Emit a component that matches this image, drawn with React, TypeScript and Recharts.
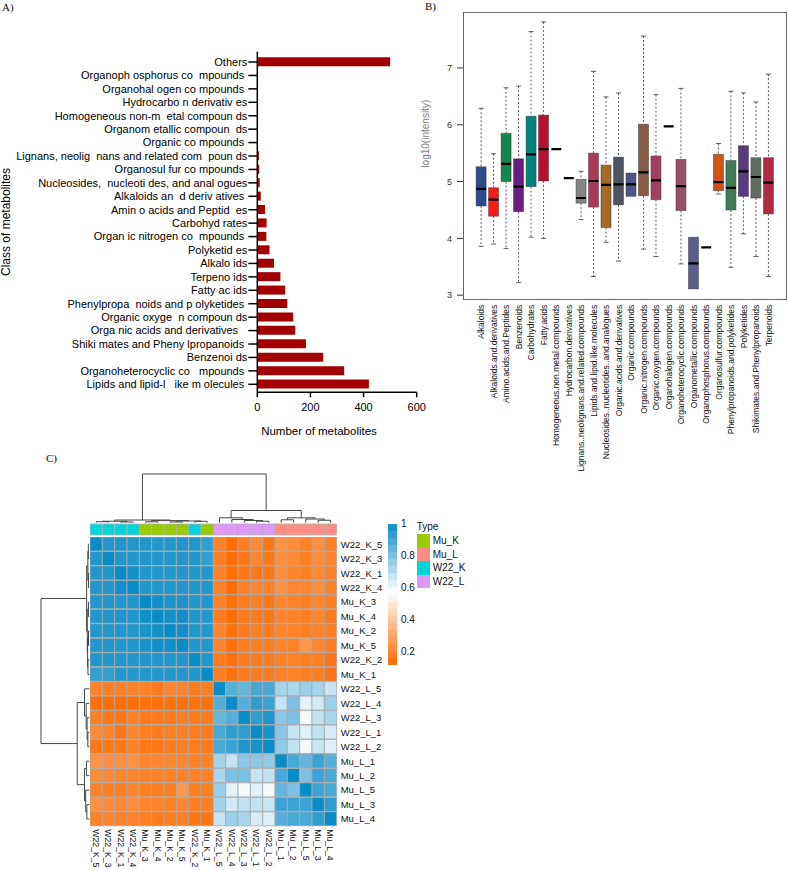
import React from "react";
import {
  BarChart,
  Bar,
  XAxis,
  YAxis,
  Cell,
  ComposedChart,
  Scatter,
  ScatterChart,
  Label,
} from "recharts";

const FONT = '"Liberation Sans", Arial, sans-serif';
const SERIF = '"Liberation Serif", "Times New Roman", serif';

// ---------- A) number of metabolites per class (top to bottom)
const classNames = [
  "Others",
  "Organoph osphorus co  mpounds ",
  "Organohal ogen co mpounds ",
  "Hydrocarbo n derivativ es",
  "Homogeneous non-m  etal compoun ds",
  "Organom etallic compoun  ds",
  "Organic co mpounds ",
  "Lignans, neolig  nans and related com  poun ds",
  "Organosul fur co mpounds ",
  "Nucleosides,  nucleoti des, and anal ogues",
  "Alkaloids an  d deriv atives ",
  "Amin o acids and Peptid  es",
  "Carbohyd rates",
  "Organ ic nitrogen co  mpounds ",
  "Polyketid es",
  "Alkalo ids",
  "Terpeno ids",
  "Fatty ac ids",
  "Phenylpropa  noids and p olyketides ",
  "Organic oxyge  n compoun ds",
  "Orga nic acids and derivatives   ",
  "Shiki mates and Pheny lpropanoids ",
  "Benzenoi ds",
  "Organoheterocyclic co   mpounds ",
  "Lipids and lipid-l   ike m olecules ",
];
const classCounts = [
  500, 1, 1, 1, 1, 1, 2, 6, 7, 9, 13, 29, 35, 34, 46, 63, 87, 105, 113, 135, 143, 183, 248, 327, 420,
];
const countTicks = [0, 200, 400, 600];

// ---------- B) log10(intensity) per class
const boxCategories = [
  "Alkaloids",
  "Alkaloids.and.derivatives",
  "Amino.acids.and.Peptides",
  "Benzenoids",
  "Carbohydrates",
  "Fatty.acids",
  "Homogeneous.non.metal.compounds",
  "Hydrocarbon.derivatives",
  "Lignans..neolignans.and.related.compounds",
  "Lipids.and.lipid.like.molecules",
  "Nucleosides..nucleotides..and.analogues",
  "Organic.acids.and.derivatives",
  "Organic.compounds",
  "Organic.nitrogen.compounds",
  "Organic.oxygen.compounds",
  "Organohalogen.compounds",
  "Organoheterocyclic.compounds",
  "Organometallic.compounds",
  "Organophosphorus.compounds",
  "Organosulfur.compounds",
  "Phenylpropanoids.and.polyketides",
  "Polyketides",
  "Shikimates.and.Phenylpropanoids",
  "Terpenoids",
];
const boxMin = [3.86, 3.9, 3.82, 3.22, 4.02, 4.0, 5.57, 5.06, 4.33, 3.33, 3.93, 3.6, 4.74, 3.81, 3.68, 5.97, 3.55, 3.11, 3.84, 4.78, 3.49, 4.08, 3.68, 3.33];
const boxQ1 = [4.57, 4.39, 5.0, 4.47, 4.91, 5.01, 5.57, 5.06, 4.62, 4.55, 4.19, 4.59, 4.74, 4.75, 4.68, 5.97, 4.49, 3.11, 3.84, 4.84, 4.5, 4.74, 4.71, 4.43];
const boxMedian = [4.87, 4.68, 5.31, 4.91, 5.48, 5.57, 5.57, 5.06, 4.71, 5.01, 4.94, 4.95, 4.95, 5.16, 5.02, 5.97, 4.92, 3.56, 3.84, 4.99, 4.89, 5.18, 5.08, 4.98];
const boxQ3 = [5.26, 4.89, 5.85, 5.4, 6.15, 6.17, 5.57, 5.06, 5.04, 5.5, 5.29, 5.43, 5.15, 6.01, 5.45, 5.97, 5.39, 4.02, 3.84, 5.48, 5.37, 5.63, 5.42, 5.42];
const boxMax = [6.29, 5.49, 6.65, 6.68, 7.64, 7.81, 5.57, 5.06, 5.18, 6.94, 6.49, 6.56, 5.15, 7.56, 6.53, 5.97, 6.64, 4.02, 3.84, 5.67, 6.59, 6.56, 6.4, 6.89];
const boxColors = [
  "#2e4a8e", "#ff1a1a", "#13874b", "#6a1e7e", "#00827f", "#b8102e", "#000", "#000",
  "#858585", "#ab3a5a", "#a36a26", "#4c5561", "#4c5786", "#8a5a4a", "#a33e60", "#000",
  "#9a5068", "#5a5e8a", "#000", "#cf5317", "#3e7a56", "#5a3a80", "#5f6e62", "#b02a44",
];
const intensityTicks = [3, 4, 5, 6, 7];

// ---------- C) sample correlation heatmap
const sampleNames = [
  "W22_K_5", "W22_K_3", "W22_K_1", "W22_K_4", "Mu_K_3", "Mu_K_4", "Mu_K_2", "Mu_K_5", "W22_K_2", "Mu_K_1",
  "W22_L_5", "W22_L_4", "W22_L_3", "W22_L_1", "W22_L_2", "Mu_L_1", "Mu_L_2", "Mu_L_5", "Mu_L_3", "Mu_L_4",
];
const sampleTypes = [
  "W22_K", "W22_K", "W22_K", "W22_K", "Mu_K", "Mu_K", "Mu_K", "Mu_K", "W22_K", "Mu_K",
  "W22_L", "W22_L", "W22_L", "W22_L", "W22_L", "Mu_L", "Mu_L", "Mu_L", "Mu_L", "Mu_L",
];
const typeNames = ["Mu_K", "Mu_L", "W22_K", "W22_L"];
const typeColors = ["#99cc00", "#ff8c82", "#00d5dc", "#dd99fa"];
const corrMatrix = [
  [1, .96, .96, .96, .96, .96, .96, .96, .96, .93, .19, .13, .18, .21, .16, .24, .22, .19, .23, .19],
  [.96, 1, .96, .96, .96, .96, .96, .96, .96, .93, .18, .13, .16, .20, .16, .23, .21, .18, .22, .20],
  [.96, .96, 1, .985, .96, .96, .96, .96, .96, .955, .19, .13, .16, .16, .16, .23, .20, .18, .21, .19],
  [.96, .96, .985, 1, .96, .96, .96, .96, .96, .955, .19, .13, .19, .20, .19, .24, .20, .20, .23, .19],
  [.96, .96, .96, .96, 1, .985, .97, .97, .96, .955, .19, .14, .17, .18, .16, .20, .19, .18, .20, .18],
  [.96, .96, .96, .96, .985, 1, .985, .985, .96, .955, .17, .13, .17, .17, .16, .20, .19, .18, .20, .17],
  [.96, .96, .96, .96, .97, .985, 1, .985, .96, .955, .20, .14, .17, .18, .17, .20, .19, .18, .19, .18],
  [.96, .96, .96, .96, .97, .985, .985, 1, .96, .955, .20, .14, .18, .18, .18, .20, .19, .25, .20, .18],
  [.96, .96, .96, .96, .96, .96, .96, .96, 1, .96, .17, .14, .17, .17, .17, .19, .19, .18, .18, .15],
  [.93, .93, .955, .955, .955, .955, .955, .955, .96, 1, .18, .14, .17, .17, .17, .19, .19, .18, .18, .15],
  [.19, .18, .19, .19, .19, .17, .20, .20, .17, .18, 1, .87, .84, .89, .89, .73, .72, .75, .73, .67],
  [.13, .13, .13, .13, .14, .13, .14, .14, .14, .14, .87, 1, .87, .935, .915, .675, .80, .62, .65, .745],
  [.18, .16, .16, .19, .17, .17, .17, .18, .17, .17, .84, .87, 1, .935, .965, .775, .80, .59, .675, .72],
  [.21, .20, .16, .20, .18, .17, .18, .18, .17, .17, .89, .935, .935, 1, .975, .775, .67, .63, .68, .64],
  [.16, .16, .16, .19, .16, .16, .17, .18, .17, .17, .89, .915, .965, .975, 1, .765, .675, .59, .665, .63],
  [.24, .23, .23, .24, .20, .20, .20, .20, .19, .19, .73, .675, .775, .775, .765, 1, .89, .845, .915, .87],
  [.22, .21, .20, .20, .19, .19, .19, .19, .19, .19, .72, .80, .80, .67, .675, .89, 1, .80, .915, .89],
  [.19, .18, .18, .20, .18, .18, .18, .25, .18, .18, .75, .62, .59, .63, .59, .845, .80, 1, .915, .89],
  [.23, .22, .21, .23, .20, .20, .19, .20, .18, .18, .73, .65, .675, .68, .665, .915, .915, .915, 1, .935],
  [.19, .20, .19, .19, .18, .17, .18, .18, .15, .15, .67, .745, .72, .64, .63, .87, .89, .89, .935, 1],
];
// hclust-style merges: negative = leaf (display position + 1), positive = earlier merge
const treeMerges: [number, number, number][] = [
  [-1, -2, 0.02],
  [-3, -4, 0.015],
  [1, 2, 0.03],
  [-5, -6, 0.018],
  [-7, -8, 0.016],
  [-9, -10, 0.028],
  [5, 6, 0.035],
  [4, 7, 0.042],
  [3, 8, 0.055],
  [-14, -15, 0.03],
  [-13, 10, 0.045],
  [-12, 11, 0.065],
  [-11, 12, 0.1],
  [-19, -20, 0.05],
  [-18, 14, 0.075],
  [-16, -17, 0.06],
  [16, 15, 0.1],
  [13, 17, 0.25],
  [9, 18, 1],
];
const colorBarTicks = [1, 0.8, 0.6, 0.4, 0.2];
const colorBarRange = [0.117, 1];

// colour scale: orange -> white -> blue
const lowRGB = [255, 106, 0];
const midRGB = [255, 255, 255];
const highRGB = [10, 140, 200];
const midValue = 0.57;

function heatColor(v: number) {
  const [lo, hi] = colorBarRange;
  let a = midRGB, b = highRGB, t = (v - midValue) / (hi - midValue);
  if (v <= midValue) {
    a = lowRGB;
    b = midRGB;
    t = (v - lo) / (midValue - lo);
  }
  t = Math.max(0, Math.min(1, t));
  const c = a.map((x, i) => Math.round(x + (b[i] - x) * t));
  return `rgb(${c[0]},${c[1]},${c[2]})`;
}

function dendroSegments(merges: [number, number, number][]) {
  const pos: number[] = [];
  const hgt: number[] = [];
  const segs: { p: number; h: number }[][] = [];
  merges.forEach(([a, b, h], k) => {
    const pa = a < 0 ? -a - 1 : pos[a - 1];
    const ha = a < 0 ? 0 : hgt[a - 1];
    const pb = b < 0 ? -b - 1 : pos[b - 1];
    const hb = b < 0 ? 0 : hgt[b - 1];
    pos[k] = (pa + pb) / 2;
    hgt[k] = h;
    segs.push([
      { p: pa, h: ha },
      { p: pa, h },
      { p: pb, h },
      { p: pb, h: hb },
    ]);
  });
  return segs;
}

// ---------------- Panel A
function ClassTick(props: any) {
  const { x, y, payload } = props;
  return (
    <text x={x} y={y} textAnchor="end" dy="0.35em" fontSize={11} fill="#000" style={{ whiteSpace: "pre" }}>
      {payload.value}
    </text>
  );
}

function PanelA() {
  const data = classNames.map((name, i) => ({ name, count: classCounts[i] }));
  const axisStroke = { stroke: "#000", strokeWidth: 1.5 };
  return (
    <div style={{ position: "absolute", left: 0, top: 0 }}>
      <BarChart
        layout="vertical"
        width={440}
        height={450}
        data={data}
        margin={{ top: 51.7, right: 23.3, left: 0, bottom: 0 }}
        barSize={9}
      >
        <XAxis
          type="number"
          domain={[0, 600]}
          ticks={countTicks}
          height={57.7}
          tickSize={5}
          tickMargin={6}
          axisLine={axisStroke}
          tickLine={axisStroke}
          tick={{ fontSize: 11, fill: "#000" }}
        >
          <Label
            content={(p: any) => {
              const vb = p.viewBox || { x: 0, y: 0, width: 0 };
              return (
                <text x={vb.x + vb.width / 2 - 18} y={vb.y + 43} textAnchor="middle" fontSize={11.5} fill="#000">
                  Number of metabolites
                </text>
              );
            }}
          />
        </XAxis>
        <YAxis
          type="category"
          dataKey="name"
          width={257.3}
          interval={0}
          padding={{ top: 3.6, bottom: 1.3 }}
          tickSize={9}
          tickMargin={1}
          axisLine={axisStroke}
          tickLine={axisStroke}
          tick={<ClassTick />}
        >
          <Label
            content={(p: any) => {
              const vb = p.viewBox || { x: 0, y: 0, height: 0 };
              const cx = 6;
              const cy = vb.y + vb.height / 2;
              return (
                <text x={cx} y={cy} transform={`rotate(-90, ${cx}, ${cy})`} textAnchor="middle" dy="0.35em" fontSize={12} fill="#000">
                  Class of metabolites
                </text>
              );
            }}
          />
        </YAxis>
        <Bar dataKey="count" fill="#a20000" isAnimationActive={false} />
      </BarChart>
    </div>
  );
}

// ---------------- Panel B
function BoxShape(props: any) {
  const { x, y, width, height, payload } = props;
  if (!payload || payload.lo === payload.hi || !height) return <g />;
  const pix = (v: number) => y + (height * (payload.hi - v)) / (payload.hi - payload.lo);
  const cx = x + width / 2;
  const top = pix(payload.q3);
  const bot = pix(payload.q1);
  const med = pix(payload.median);
  const yHi = pix(payload.hi);
  const yLo = pix(payload.lo);
  const cap = width * 0.25;
  return (
    <g>
      {payload.hi > payload.q3 && (
        <g>
          <line x1={cx} x2={cx} y1={yHi} y2={top} stroke="#333" strokeWidth={0.8} strokeDasharray="2 2" />
          <line x1={cx - cap} x2={cx + cap} y1={yHi} y2={yHi} stroke="#333" strokeWidth={0.8} />
        </g>
      )}
      {payload.lo < payload.q1 && (
        <g>
          <line x1={cx} x2={cx} y1={bot} y2={yLo} stroke="#333" strokeWidth={0.8} strokeDasharray="2 2" />
          <line x1={cx - cap} x2={cx + cap} y1={yLo} y2={yLo} stroke="#333" strokeWidth={0.8} />
        </g>
      )}
      <rect x={x} y={top} width={width} height={bot - top} fill={payload.color} stroke="#3a3a3a" strokeOpacity={0.6} strokeWidth={0.8} />
      <line x1={x} x2={x + width} y1={med} y2={med} stroke="#000" strokeWidth={2.2} />
    </g>
  );
}

function SingleMark(props: any) {
  const { cx, cy } = props;
  if (cx == null || cy == null || isNaN(cy)) return <g />;
  return <line x1={cx - 5} x2={cx + 5} y1={cy} y2={cy} stroke="#000" strokeWidth={2.2} />;
}

function BoxTick(props: any) {
  const { x, y, payload } = props;
  return (
    <text x={x} y={y} transform={`rotate(-90, ${x}, ${y})`} textAnchor="end" dy="0.35em" fontSize={8.5} fill="#111">
      {payload.value}
    </text>
  );
}

function PanelB() {
  const data = boxCategories.map((name, i) => ({
    name,
    lo: boxMin[i],
    q1: boxQ1[i],
    median: boxMedian[i],
    q3: boxQ3[i],
    hi: boxMax[i],
    color: boxColors[i],
    range: [boxMin[i], boxMax[i]],
    single: boxMin[i] === boxMax[i] ? boxMedian[i] : null,
  }));
  return (
    <div style={{ position: "absolute", left: 390, top: 0 }}>
      <ComposedChart width={398} height={490} data={data} margin={{ top: 11.7, right: 1, left: 0, bottom: 0 }}>
        <XAxis
          dataKey="name"
          interval={0}
          height={190.3}
          padding={{ left: 12.1, right: 12.1 }}
          axisLine={false}
          tickLine={false}
          tickSize={0}
          tickMargin={5}
          tick={<BoxTick />}
        />
        <YAxis
          type="number"
          domain={[2.92, 7.99]}
          ticks={intensityTicks}
          allowDataOverflow
          width={73}
          axisLine={false}
          tickSize={6}
          tickMargin={5}
          tickLine={{ stroke: "#333" }}
          tick={{ fontSize: 9, fill: "#333" }}
        >
          <Label
            content={(p: any) => {
              const vb = p.viewBox || { x: 0, y: 0, height: 0 };
              const cx = vb.x + 36;
              const cy = vb.y + vb.height / 2 - 22;
              return (
                <text x={cx} y={cy} transform={`rotate(-90, ${cx}, ${cy})`} textAnchor="middle" dy="0.35em" fontSize={10} fill="#808080">
                  log10(intensity)
                </text>
              );
            }}
          />
        </YAxis>
        <Bar dataKey="range" barSize={10} shape={<BoxShape />} isAnimationActive={false} />
        <Scatter dataKey="single" shape={<SingleMark />} isAnimationActive={false} />
      </ComposedChart>
      <div
        style={{
          position: "absolute",
          left: 73,
          top: 11.7,
          width: 324,
          height: 288.3,
          border: "1px solid #666",
          boxSizing: "border-box",
          pointerEvents: "none",
        }}
      />
    </div>
  );
}

// ---------------- Panel C
const HM_LEFT = 90;
const HM_TOP = 536.7;
const HM_W = 246.7;
const HM_H = 289.3;

function ColTick(props: any) {
  const { x, y, payload } = props;
  const label = sampleNames[Math.floor(payload.value)];
  return (
    <text x={x} y={y} transform={`rotate(90, ${x}, ${y})`} textAnchor="start" dy="0.35em" fontSize={8.7} fill="#111">
      {label}
    </text>
  );
}

function PanelC() {
  const heatRows = sampleNames.map((name) => {
    const row: Record<string, number | string> = { name };
    sampleNames.forEach((_, j) => {
      row["c" + j] = 1;
    });
    return row;
  });
  const typeRow = [heatRows[0]].map((r) => ({ ...r, name: "Type" }));
  const colTicks = sampleNames.map((_, j) => j + 0.5);
  const segs = dendroSegments(treeMerges);
  const lineStyle = { stroke: "#444", strokeWidth: 1 };
  const nBands = 20;
  const [cbLo, cbHi] = colorBarRange;
  const cbTop = 524;
  const cbH = 141;
  const cbY = (v: number) => cbTop + ((cbHi - v) / (cbHi - cbLo)) * cbH;

  return (
    <>
      {/* top dendrogram */}
      <div style={{ position: "absolute", left: HM_LEFT, top: 473.3 }}>
        <ScatterChart width={HM_W} height={50.7} margin={{ top: 1, bottom: 1, left: 0, right: 0 }}>
          <XAxis type="number" dataKey="p" domain={[-0.5, 19.5]} hide />
          <YAxis type="number" dataKey="h" domain={[0, 1]} hide />
          {segs.map((s, i) => (
            <Scatter key={i} data={s} line={lineStyle} shape={() => <g />} isAnimationActive={false} />
          ))}
        </ScatterChart>
      </div>
      {/* left dendrogram */}
      <div style={{ position: "absolute", left: 39.7, top: HM_TOP }}>
        <ScatterChart width={50.3} height={HM_H} margin={{ top: 0, bottom: 0, left: 1, right: 1 }}>
          <XAxis type="number" dataKey="h" domain={[0, 1]} reversed hide />
          <YAxis type="number" dataKey="p" domain={[-0.5, 19.5]} reversed hide />
          {segs.map((s, i) => (
            <Scatter key={i} data={s} line={lineStyle} shape={() => <g />} isAnimationActive={false} />
          ))}
        </ScatterChart>
      </div>
      {/* annotation row */}
      <div style={{ position: "absolute", left: HM_LEFT, top: 521.3 }}>
        <BarChart layout="vertical" width={HM_W + 60} height={16.7} data={typeRow} margin={{ top: 3, bottom: 3, left: 0, right: 0 }} barCategoryGap={0}>
          <XAxis type="number" domain={[0, 20]} hide />
          <YAxis type="category" dataKey="name" orientation="right" width={60} axisLine={false} tickLine={false} tickSize={0} tickMargin={4} tick={{ fontSize: 9.5, fill: "#111", textAnchor: "start" }} />
          {sampleNames.map((_, j) => (
            <Bar key={j} dataKey={"c" + j} stackId="t" isAnimationActive={false}>
              <Cell fill={typeColors[typeNames.indexOf(sampleTypes[j])]} stroke="#b0b0b0" strokeWidth={0.8} />
            </Bar>
          ))}
        </BarChart>
      </div>
      {/* heatmap */}
      <div style={{ position: "absolute", left: HM_LEFT, top: HM_TOP }}>
        <BarChart layout="vertical" width={HM_W + 60} height={HM_H + 44} data={heatRows} margin={{ top: 0, bottom: 0, left: 0, right: 0 }} barCategoryGap={0}>
          <XAxis type="number" domain={[0, 20]} ticks={colTicks} interval={0} height={44} axisLine={false} tickLine={false} tickSize={0} tickMargin={3} tick={<ColTick />} />
          <YAxis type="category" dataKey="name" orientation="right" width={60} interval={0} axisLine={false} tickLine={false} tickSize={0} tickMargin={4} tick={{ fontSize: 9.5, fill: "#111", textAnchor: "start" }} />
          {sampleNames.map((_, j) => (
            <Bar key={j} dataKey={"c" + j} stackId="h" isAnimationActive={false}>
              {sampleNames.map((__, i) => (
                <Cell key={i} fill={heatColor(corrMatrix[i][j])} stroke="#a8a8a8" strokeWidth={0.8} />
              ))}
            </Bar>
          ))}
        </BarChart>
      </div>
      {/* colour bar */}
      {Array.from({ length: nBands }).map((_, k) => {
        const vTop = cbHi - (k * (cbHi - cbLo)) / nBands;
        const vMid = vTop - (cbHi - cbLo) / nBands / 2;
        return (
          <div
            key={k}
            style={{
              position: "absolute",
              left: 387.7,
              top: cbY(vTop),
              width: 9.6,
              height: cbH / nBands + 0.3,
              background: heatColor(vMid),
            }}
          />
        );
      })}
      {colorBarTicks.map((t) => (
        <div key={t} style={{ position: "absolute", left: 401, top: cbY(t) - 6, fontSize: 10, lineHeight: "12px", color: "#111" }}>
          {t}
        </div>
      ))}
      {/* Type legend */}
      <div style={{ position: "absolute", left: 416.7, top: 521, fontSize: 10, lineHeight: "12px", color: "#111" }}>Type</div>
      {typeNames.map((t, k) => (
        <React.Fragment key={t}>
          <div style={{ position: "absolute", left: 416.7, top: 534.3 + k * 13.5, width: 13.3, height: 13.5, background: typeColors[k] }} />
          <div style={{ position: "absolute", left: 432.7, top: 534.3 + k * 13.5, fontSize: 10, lineHeight: "13.5px", color: "#111" }}>{t}</div>
        </React.Fragment>
      ))}
    </>
  );
}

export default function App() {
  const letter = { position: "absolute" as const, fontFamily: SERIF, fontSize: 11, color: "#111", lineHeight: "12px" };
  return (
    <div style={{ position: "relative", width: 788, height: 870, background: "#fff", fontFamily: FONT, overflow: "hidden" }}>
      <style>{"body{margin:0}"}</style>
      <PanelA />
      <PanelB />
      <PanelC />
      <div style={{ ...letter, left: 2, top: 1 }}>A)</div>
      <div style={{ ...letter, left: 425, top: 0 }}>B)</div>
      <div style={{ ...letter, left: 46, top: 452 }}>C)</div>
    </div>
  );
}
